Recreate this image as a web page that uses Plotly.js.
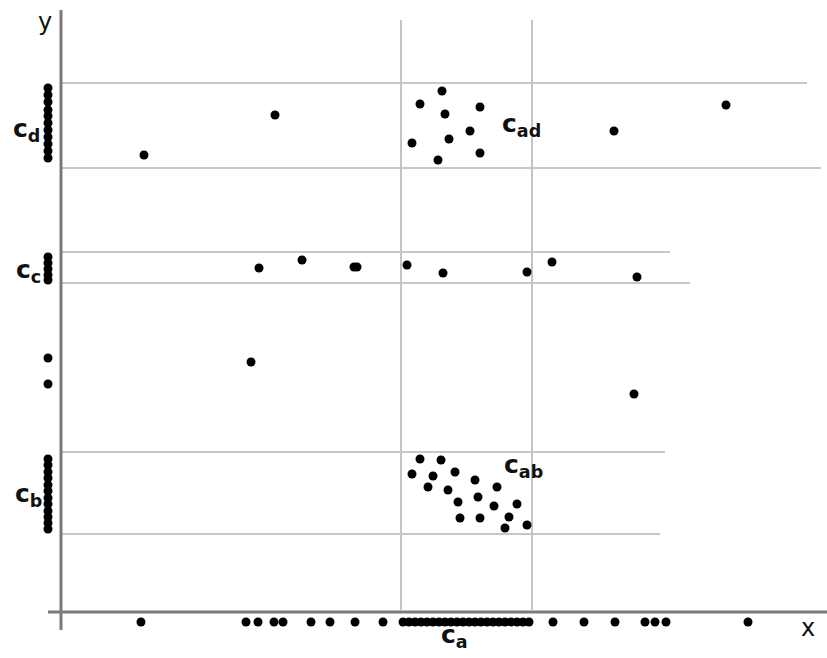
<!DOCTYPE html>
<html>
<head>
<meta charset="utf-8">
<script src="https://cdn.plot.ly/plotly-3.0.1.min.js"></script>
<style>html,body{margin:0;padding:0;background:#fff;}#chart{width:827px;height:658px;}</style>
</head>
<body>
<div id="chart"></div>
<script>
// ---- data (x to the right of the y axis, y above the x axis) ----
// cluster c_ad (upper band, around the vertical guides)
const cadX = [381, 359, 419, 384, 409, 388, 351, 419, 377];
const cadY = [521, 508, 505, 498, 481, 473, 469, 459, 452];
// other points in the c_d band
const dOtherX = [214, 83, 553, 665];
const dOtherY = [497, 457, 481, 507];
// points in the c_c band
const ccX = [198, 241, 293, 296, 346, 382, 466, 491, 576];
const ccY = [344, 352, 345, 345, 347, 339, 340, 350, 335];
// isolated points between bands
const midX = [190, 573];
const midY = [250, 218];
// cluster c_ab (lower band)
const cabX = [359, 380, 351, 372, 394, 414, 367, 387, 436, 397, 417, 433, 456, 399, 419, 448, 444, 466];
const cabY = [153, 152, 138, 136, 140, 132, 125, 122, 125, 110, 115, 106, 108, 94, 94, 95, 84, 87];
// projections on the x axis
const projX = [80, 185, 197, 213, 222, 250, 269, 294, 322,
  342, 348, 354, 360, 366, 372, 378, 384, 390, 396, 402, 408, 414, 420, 426, 432, 438, 444, 450, 456, 462, 468,
  492, 523, 554, 584, 594, 605, 687];
// projections on the y axis
const projY = [524, 517, 510, 502, 496, 489, 482, 475, 468, 461, 454,
  355, 349, 343, 337, 332,
  254, 228,
  153, 147, 140, 134, 127, 121, 114, 108, 101, 95, 89, 83];
// horizontal band boundaries: level and right end
const bandLevels = [529, 444, 360, 329, 160, 78];
const bandEnds = [746, 760, 609, 629, 604, 599];
// vertical guides delimiting c_a
const guideX = [340, 471];
const guideTop = 592;
// labels
const labelText = ['y', 'x', 'c<sub>d</sub>', 'c<sub>c</sub>', 'c<sub>b</sub>', 'c<sub>a</sub>', 'c<sub>ad</sub>', 'c<sub>ab</sub>'];
const labelX = [-16, 747, -35, -33, -33, 393, 460, 462];
const labelY = [590, -16, 482, 341, 117, -24, 487, 146];

// ---- build ----
const dot = {color: '#000', size: 9};
const traces = [
  {x: cadX, y: cadY, mode: 'markers', type: 'scatter', marker: dot},
  {x: dOtherX, y: dOtherY, mode: 'markers', type: 'scatter', marker: dot},
  {x: ccX, y: ccY, mode: 'markers', type: 'scatter', marker: dot},
  {x: midX, y: midY, mode: 'markers', type: 'scatter', marker: dot},
  {x: cabX, y: cabY, mode: 'markers', type: 'scatter', marker: dot},
  {x: projX, y: projX.map(() => -10), mode: 'markers', type: 'scatter', marker: dot},
  {x: projY.map(() => -13), y: projY, mode: 'markers', type: 'scatter', marker: dot}
];

const shapes = [];
bandLevels.forEach((lv, i) => shapes.push({type: 'line', xref: 'x', yref: 'y', x0: 0, x1: bandEnds[i], y0: lv, y1: lv, line: {color: '#b4b4b4', width: 1.5}, layer: 'below'}));
guideX.forEach(gx => shapes.push({type: 'line', xref: 'x', yref: 'y', x0: gx, x1: gx, y0: 2, y1: guideTop, line: {color: '#c4c4c4', width: 2}, layer: 'below'}));
// axes
shapes.push({type: 'line', xref: 'x', yref: 'y', x0: 0, x1: 0, y0: -18, y1: 602, line: {color: '#7a7a7a', width: 3}, layer: 'below'});
shapes.push({type: 'line', xref: 'x', yref: 'y', x0: -13, x1: 766, y0: 0, y1: 0, line: {color: '#7a7a7a', width: 3}, layer: 'below'});

const annotations = labelText.map((t, i) => ({
  x: labelX[i], y: labelY[i], xref: 'x', yref: 'y', text: i < 2 ? t : '<b>' + t + '</b>',
  showarrow: false, font: {family: 'DejaVu Sans', size: i < 2 ? 24 : 25, color: '#111'}
}));

const layout = {
  width: 827, height: 658,
  margin: {l: 0, r: 0, t: 0, b: 0},
  paper_bgcolor: '#fff', plot_bgcolor: '#fff',
  showlegend: false,
  xaxis: {range: [-61, 766], visible: false, fixedrange: true},
  yaxis: {range: [-46, 612], visible: false, fixedrange: true},
  shapes: shapes,
  annotations: annotations
};
Plotly.newPlot('chart', traces, layout, {displayModeBar: false, staticPlot: true});
</script>
</body>
</html>
